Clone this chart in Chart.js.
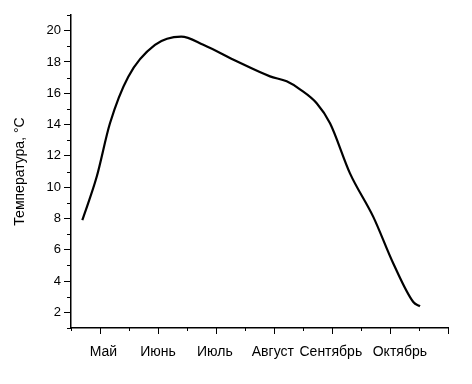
<!DOCTYPE html>
<html>
<head>
<meta charset="utf-8">
<script src="https://cdn.jsdelivr.net/npm/chart.js@4/dist/chart.umd.min.js"></script>
<style>
  html, body { margin: 0; padding: 0; background: #fff; }
  #chart { display: block; }
</style>
</head>
<body>
<canvas id="chart" width="472" height="384"></canvas>
<script>
const months = ["Май", "Июнь", "Июль", "Август", "Сентябрь", "Октябрь"];
// where each month label sits on the axis (0 = Май), as in the picture
const labelPos = [0.06, 1.0, 1.98, 2.98, 3.98, 5.17];
// position along the month axis and temperature
const monthPos = [-0.305, -0.057, 0.172, 0.488, 0.948, 1.40, 1.781, 2.357, 2.931, 3.219, 3.448, 3.736, 3.966, 4.31, 4.712, 5.057, 5.402, 5.517];
const temps    = [7.89, 10.66, 14.08, 17.06, 19.09, 19.62, 19.10, 18.04, 17.08, 16.76, 16.25, 15.36, 14.08, 10.88, 8.10, 5.12, 2.66, 2.39];
const yTicks = [2, 4, 6, 8, 10, 12, 14, 16, 18, 20];

const points = monthPos.map((x, i) => ({ x: x, y: temps[i] }));

// tick marks: long at whole months / even degrees, short in between
const tickMarks = {
    id: 'tickMarks',
    afterDraw(chart) {
        const ctx = chart.ctx;
        const xs = chart.scales.x;
        const ys = chart.scales.y;
        ctx.save();
        ctx.strokeStyle = '#000';
        ctx.lineWidth = 1;
        ctx.beginPath();
        for (let v = 1; v <= 21; v += 2) {
            const py = Math.round(ys.getPixelForValue(v)) + 0.5;
            ctx.moveTo(xs.left, py);
            ctx.lineTo(xs.left - 4, py);
        }
        for (let v = -0.5; v <= 6; v += 0.5) {
            const px = Math.round(xs.getPixelForValue(v)) + 0.5;
            const len = Number.isInteger(v) ? 6 : 3;
            ctx.moveTo(px, ys.bottom);
            ctx.lineTo(px, ys.bottom + len);
        }
        ctx.stroke();
        ctx.restore();
    }
};

new Chart(document.getElementById('chart'), {
    type: 'line',
    data: {
        datasets: [{
            data: points,
            borderColor: '#000',
            borderWidth: 2.2,
            pointRadius: 0,
            cubicInterpolationMode: 'monotone',
            fill: false
        }]
    },
    options: {
        responsive: false,
        animation: false,
        layout: { padding: { top: 15, right: 24, left: 0, bottom: 0 } },
        plugins: { legend: { display: false }, tooltip: { enabled: false } },
        scales: {
            x: {
                type: 'linear',
                min: -0.5,
                max: 6,
                afterFit: s => { s.height = 56; },
                border: { color: '#000', width: 1.5 },
                grid: { drawOnChartArea: false, tickLength: 6, tickColor: 'rgba(0,0,0,0)' },
                afterBuildTicks: s => { s.ticks = labelPos.map(v => ({ value: v })); },
                ticks: {
                    autoSkip: false,
                    maxRotation: 0,
                    padding: 10,
                    color: '#000',
                    font: { family: 'Liberation Sans, Arial', size: 14 },
                    callback: (v, i) => months[i]
                }
            },
            y: {
                min: 1,
                max: 21,
                afterFit: s => { s.width = 71; },
                border: { color: '#000', width: 1.5 },
                grid: { drawOnChartArea: false, tickLength: 7, tickColor: '#000' },
                afterBuildTicks: s => { s.ticks = yTicks.map(v => ({ value: v })); },
                ticks: {
                    padding: 3,
                    color: '#000',
                    font: { family: 'Liberation Sans, Arial', size: 13 }
                },
                title: {
                    display: true,
                    text: 'Температура, °C',
                    color: '#000',
                    padding: { top: 12, bottom: 0 },
                    font: { family: 'Liberation Sans, Arial', size: 14 }
                }
            }
        }
    },
    plugins: [tickMarks]
});
</script>
</body>
</html>
